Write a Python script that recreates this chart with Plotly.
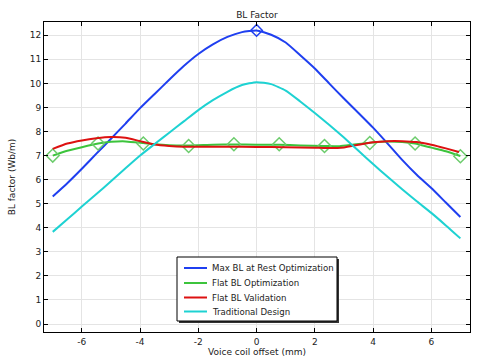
import plotly.graph_objects as go

# ---- data ----
x_blue = [-7, -6.5, -6, -5.5, -5, -4.5, -4, -3.5, -3, -2.5, -2, -1.5, -1, -0.5, 0,
          0.5, 1, 1.5, 2, 2.5, 3, 3.5, 4, 4.5, 5, 5.5, 6, 6.5, 7]
y_blue = [5.3, 5.85, 6.45, 7.08, 7.7, 8.33, 8.97, 9.56, 10.15, 10.72, 11.22, 11.62, 11.93, 12.13, 12.2,
          12.02, 11.7, 11.17, 10.62, 9.99, 9.37, 8.77, 8.16, 7.5, 6.82, 6.2, 5.65, 5.05, 4.45]

x_green = [-7, -6.5, -6, -5.44, -5, -4.5, -3.89, -3.5, -3, -2.33, -1.5, -0.78, 0, 0.78,
           1.5, 2.33, 2.85, 3.3, 3.89, 4.5, 5.0, 5.44, 6.0, 6.5, 7.0]
y_green = [7.0, 7.2, 7.35, 7.5, 7.57, 7.59, 7.52, 7.47, 7.43, 7.42, 7.45, 7.46, 7.45, 7.45,
           7.42, 7.4, 7.39, 7.45, 7.53, 7.58, 7.56, 7.5, 7.33, 7.18, 6.98]

x_green_mk = [-7, -5.444, -3.889, -2.333, -0.778, 0.778, 2.333, 3.889, 5.444, 7]
y_green_mk = [7.0, 7.5, 7.5, 7.4, 7.47, 7.47, 7.4, 7.52, 7.5, 6.97]

x_red = [-7, -6.5, -6, -5.5, -5, -4.5, -4, -3.5, -3, -2.5, -2, -1, 0, 1, 2, 2.5, 3,
         3.5, 4, 4.5, 5, 5.5, 6, 6.5, 6.95]
y_red = [7.28, 7.5, 7.63, 7.72, 7.77, 7.74, 7.6, 7.46, 7.4, 7.37, 7.37, 7.37, 7.36, 7.35, 7.33, 7.31, 7.34,
         7.45, 7.55, 7.6, 7.6, 7.56, 7.45, 7.3, 7.15]

x_cyan = [-7, -6.5, -6, -5.5, -5, -4.5, -4, -3.5, -3, -2.5, -2, -1.5, -1, -0.5, 0,
          0.5, 1, 1.5, 2, 2.5, 3, 3.5, 4, 4.5, 5, 5.5, 6, 6.5, 7]
y_cyan = [3.83, 4.35, 4.88, 5.4, 5.93, 6.47, 7.0, 7.48, 7.95, 8.42, 8.89, 9.3, 9.65, 9.93, 10.05,
          9.97, 9.7, 9.25, 8.77, 8.27, 7.75, 7.2, 6.65, 6.12, 5.6, 5.1, 4.62, 4.1, 3.56]

x_ticks = [-6, -4, -2, 0, 2, 4, 6]
x_ticklabels = ["-6", "-4", "-2", "0", "2", "4", "6"]
y_ticks = list(range(0, 13))

names = ["Max BL at Rest Optimization", "Flat BL Optimization", "Flat BL Validation", "Traditional Design"]
colors = ["#1f3ff0", "#3cc43c", "#dd1111", "#1ed2d2"]

font = "DejaVu Sans, Arial, sans-serif"
W, H = 481, 360
ML, MR, MT, MB = 44, 11, 22, 28
PW, PH = W - ML - MR, H - MT - MB


def px2paper(px, py):
    return (px - ML) / PW, (H - MB - py) / PH


fig = go.Figure()
fig.add_trace(go.Scatter(x=x_blue, y=y_blue, mode="lines", name=names[0], showlegend=False,
                         line=dict(color=colors[0], width=2, shape="spline", smoothing=0.5)))
fig.add_trace(go.Scatter(x=[0], y=[12.2], mode="markers", showlegend=False,
                         marker=dict(symbol="diamond-open", size=9, color=colors[0], line=dict(width=1.5))))
fig.add_trace(go.Scatter(x=x_green, y=y_green, mode="lines", name=names[1], showlegend=False,
                         line=dict(color=colors[1], width=2, shape="spline", smoothing=0.5)))
fig.add_trace(go.Scatter(x=x_green_mk, y=y_green_mk, mode="markers", showlegend=False,
                         marker=dict(symbol="diamond-open", size=10, color="#6ccc6c", line=dict(width=1.5))))
fig.add_trace(go.Scatter(x=x_red, y=y_red, mode="lines", name=names[2], showlegend=False,
                         line=dict(color=colors[2], width=2, shape="spline", smoothing=0.5)))
fig.add_trace(go.Scatter(x=x_cyan, y=y_cyan, mode="lines", name=names[3], showlegend=False,
                         line=dict(color=colors[3], width=2, shape="spline", smoothing=0.5)))

# ---- manual legend (box with shadow) ----
shapes = []
annotations = []
bx0, by0, bx1, by1 = 177, 257, 337, 321
sx0, sy0 = px2paper(bx0 + 2, by0 + 2)
sx1, sy1 = px2paper(bx1 + 2, by1 + 2)
shapes.append(dict(type="rect", xref="paper", yref="paper", x0=sx0, y0=sy1, x1=sx1, y1=sy0,
                   fillcolor="#333", line=dict(width=0), layer="above"))
lx0, ly0 = px2paper(bx0, by0)
lx1, ly1 = px2paper(bx1, by1)
shapes.append(dict(type="rect", xref="paper", yref="paper", x0=lx0, y0=ly1, x1=lx1, y1=ly0,
                   fillcolor="white", line=dict(color="black", width=1), layer="above"))
rows = [268, 283, 297.5, 311.5]
for name, col, ry in zip(names, colors, rows):
    a0, ry_p = px2paper(184, ry)
    a1, _ = px2paper(207, ry)
    shapes.append(dict(type="line", xref="paper", yref="paper", x0=a0, x1=a1, y0=ry_p, y1=ry_p,
                       line=dict(color=col, width=2), layer="above"))
    tx, _ = px2paper(210, ry)
    annotations.append(dict(text=name, xref="paper", yref="paper", x=tx, y=ry_p,
                            xanchor="left", yanchor="middle", showarrow=False,
                            font=dict(family=font, size=8.6, color="#222")))

axis_common = dict(showline=True, linecolor="black", linewidth=1, mirror="ticks",
                   ticks="inside", ticklen=4, tickcolor="black",
                   showgrid=True, gridcolor="#e4e4e4", gridwidth=1, zeroline=False,
                   automargin=False,
                   tickfont=dict(family=font, size=9, color="#222"))

fig.update_layout(
    width=W, height=H,
    margin=dict(l=ML, r=MR, t=MT, b=MB),
    paper_bgcolor="white", plot_bgcolor="white",
    title=dict(text="BL Factor", x=0.5, xref="paper", y=1 - 15 / H, yanchor="middle",
               font=dict(family=font, size=9, color="#222")),
    xaxis=dict(range=[-7.3, 7.33], tickvals=x_ticks, ticktext=x_ticklabels,
               ticklabelstandoff=1,
               title=dict(text="Voice coil offset (mm)", standoff=0,
                          font=dict(family=font, size=9, color="#222")),
               **axis_common),
    yaxis=dict(range=[-0.33, 12.55], tickvals=y_ticks,
               title=dict(text="BL factor (Wb/m)", standoff=12,
                          font=dict(family=font, size=9, color="#222")),
               **axis_common),
    shapes=shapes,
    annotations=annotations,
    showlegend=False,
)

fig.write_html("out.html", config={"displayModeBar": False},
               post_script="document.body.style.margin='0';")
